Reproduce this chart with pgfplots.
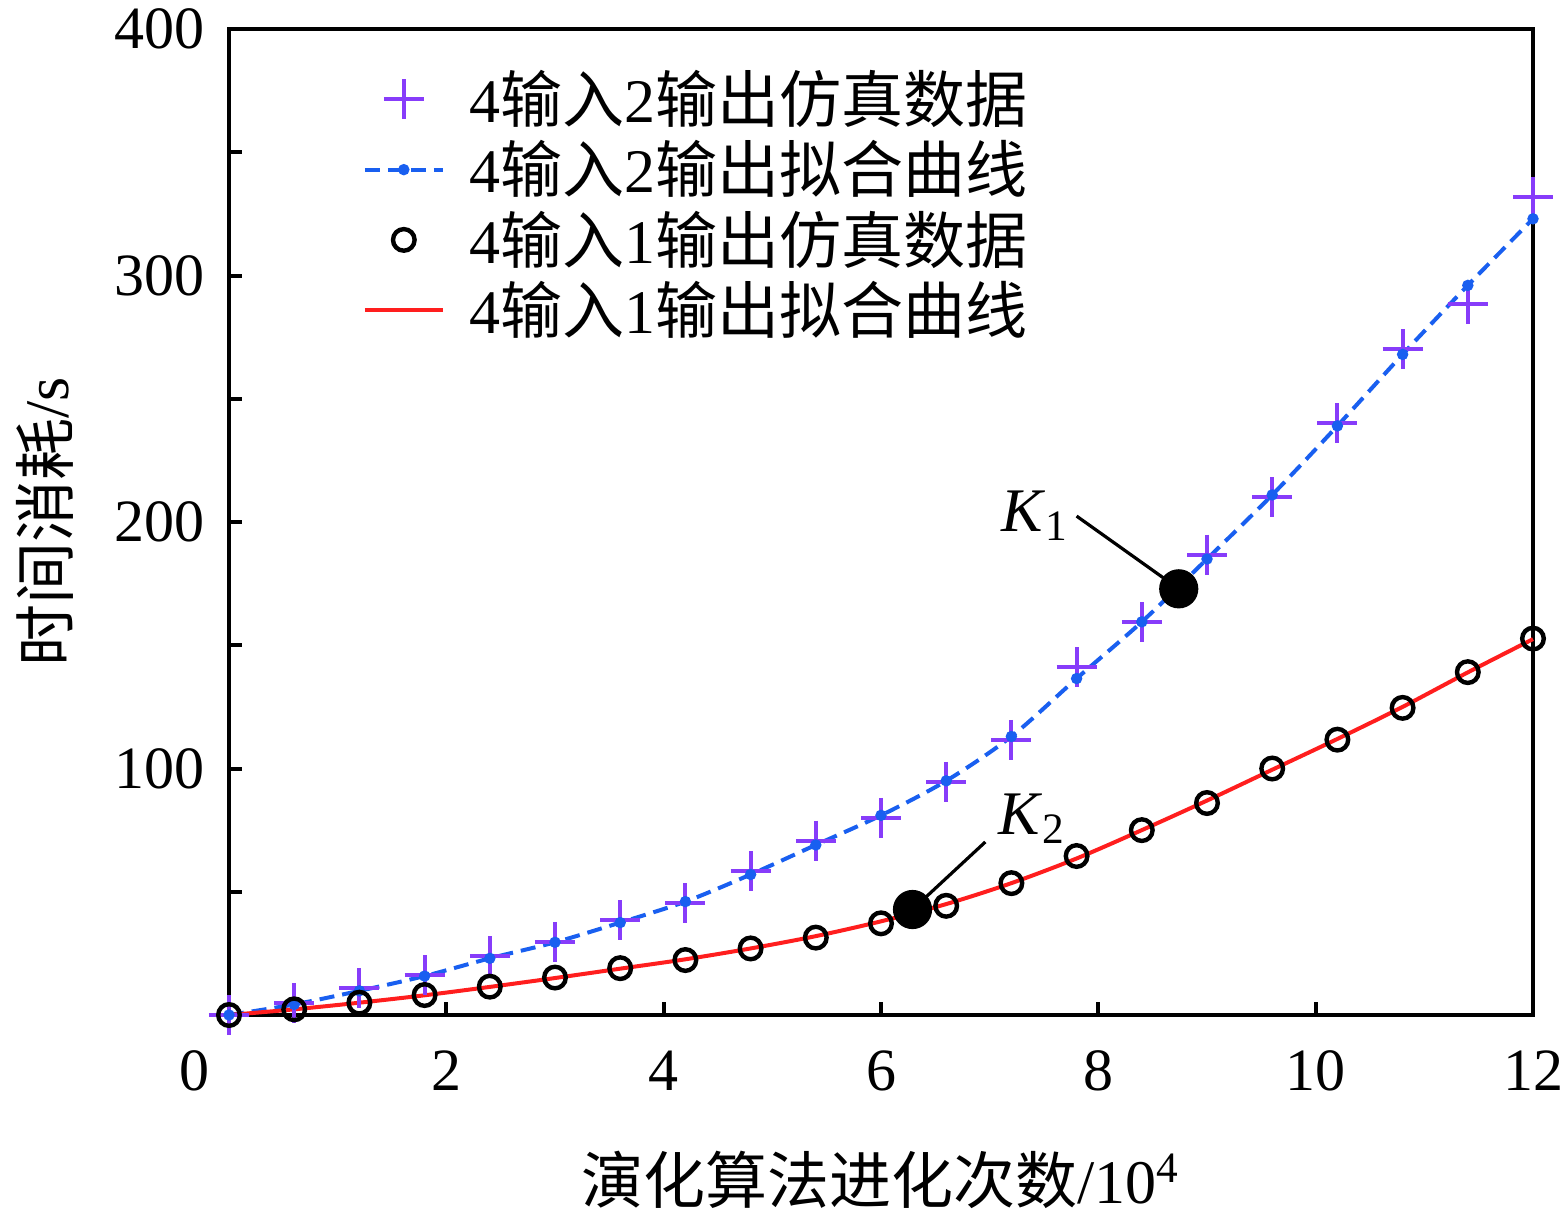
\documentclass[border=0pt]{standalone}
\usepackage{fontspec}
\setmainfont{Liberation Serif}
\newfontfamily\cjk{Noto Sans CJK SC}
\usepackage{pgfplots}
\usepackage{pgfplotstable}
\pgfplotsset{compat=1.18}
\definecolor{crosscol}{RGB}{135,60,250}
\definecolor{fitblue}{RGB}{25,95,240}
\definecolor{fitred}{RGB}{255,30,30}

\pgfplotstableread{
x s2 f2 s1 f1
0 0 0 0 0
0.6 4.8 4.3 2.3 2.3
1.2 10.8 9.8 5.0 5.0
1.8 16.2 15.8 8.1 8.0
2.4 23.8 23.0 11.5 11.4
3.0 29.7 29.5 15.2 15.0
3.6 38.5 37.5 19.0 18.8
4.2 45.3 46.0 22.3 22.6
4.8 58.4 57.0 27.0 27.0
5.4 70.7 69.0 31.4 32.0
6.0 80.0 81.0 37.2 38.0
6.6 94.6 95.0 44.3 45.0
7.2 111.6 113.0 53.5 53.5
7.8 141.0 136.5 64.5 63.5
8.4 159.4 159.5 75.0 75.0
9.0 186.8 185.0 86.0 87.0
9.6 210.0 211.0 100.0 99.5
10.2 240.0 239.0 111.7 112.0
10.8 270.0 268.0 124.6 125.0
11.4 288.5 296.0 139.1 139.0
12.0 332.0 323.0 152.7 152.5
}\datatab

\begin{document}
\begin{tikzpicture}
\begin{axis}[
  scale only axis, width=326pt, height=246.5pt,
  xmin=0, xmax=12, ymin=0, ymax=400,
  clip=false,
  axis line style={line width=1pt},
  xtick={0,2,...,12}, xticklabels={{\llap{0\kern4.75pt}},2,4,6,8,10,12},
  ytick={0,100,...,400}, yticklabels={,100,200,300,400},
  minor ytick={50,150,250,350},
  tick align=inside, tick pos=left,
  major tick length=3.25pt, minor tick length=3.25pt,
  every tick/.style={black, line width=1pt},
  tick label style={font=\fontsize{15}{15}\selectfont},
  xticklabel style={inner sep=0pt, anchor=north, yshift=-8.75pt},
  yticklabel style={inner sep=0pt, anchor=east, xshift=-6pt},
  label style={font=\fontsize{15.5}{16}\selectfont},
  xlabel={{\cjk 演化算法进化次数}/10\textsuperscript{4}},
  ylabel={{\cjk 时间消耗}/s},
  xlabel style={at={(axis description cs:0.5,-0.167)}, anchor=center, inner sep=0pt},
  ylabel style={at={(axis description cs:-0.141,0.5)}, anchor=center, inner sep=0pt},
  legend style={draw=none, fill=none, at={(axis description cs:0.102,0.959)}, anchor=north west,
    inner sep=0pt, row sep=3pt, column sep=6.25pt, font=\fontsize{15.5}{16}\selectfont,
    nodes={inner sep=0pt}},
  legend cell align=left,
  legend image code/.code={\draw[mark repeat=2, mark phase=2, #1] plot coordinates {(0pt,0pt) (9.75pt,0pt) (19.5pt,0pt)};},
]
\addplot[only marks, mark=+, mark size=5pt, color=crosscol, line width=1pt] table[x=x,y=s2]{\datatab};
\addlegendentry{4{\cjk 输入}2{\cjk 输出仿真数据}}
\addplot[fitblue, line width=1pt, dash pattern=on 3.75pt off 2pt, smooth, mark=*, mark size=0.9pt, mark options={solid}] table[x=x,y=f2]{\datatab};
\addlegendentry{4{\cjk 输入}2{\cjk 输出拟合曲线}}
\addplot[only marks, mark=o, mark size=2.7pt, black, line width=1.1pt] table[x=x,y=s1]{\datatab};
\addlegendentry{4{\cjk 输入}1{\cjk 输出仿真数据}}
\addplot[fitred, line width=1pt, smooth] table[x=x,y=f1]{\datatab};
\addlegendentry{4{\cjk 输入}1{\cjk 输出拟合曲线}}

\draw[line width=0.8pt] (axis cs:8.74,172.9) -- (axis cs:7.8,202.4);
\draw[line width=0.8pt] (axis cs:6.29,42.8) -- (axis cs:6.96,70.2);
\addplot[only marks, mark=*, mark size=4.7pt, black, forget plot] coordinates {(8.74,172.9) (6.29,42.8)};
\node[font=\fontsize{15.5}{16}\selectfont] at (axis cs:7.42,202.6) {\textit{K}\textsubscript{1}};
\node[font=\fontsize{15.5}{16}\selectfont] at (axis cs:7.39,79.8) {\textit{K}\textsubscript{2}};
\end{axis}
\pgfresetboundingbox
\path[use as bounding box] (current axis.south west) ++(-57.25pt,-49.5pt) rectangle ++(390.75pt,303.25pt);
\end{tikzpicture}
\end{document}
